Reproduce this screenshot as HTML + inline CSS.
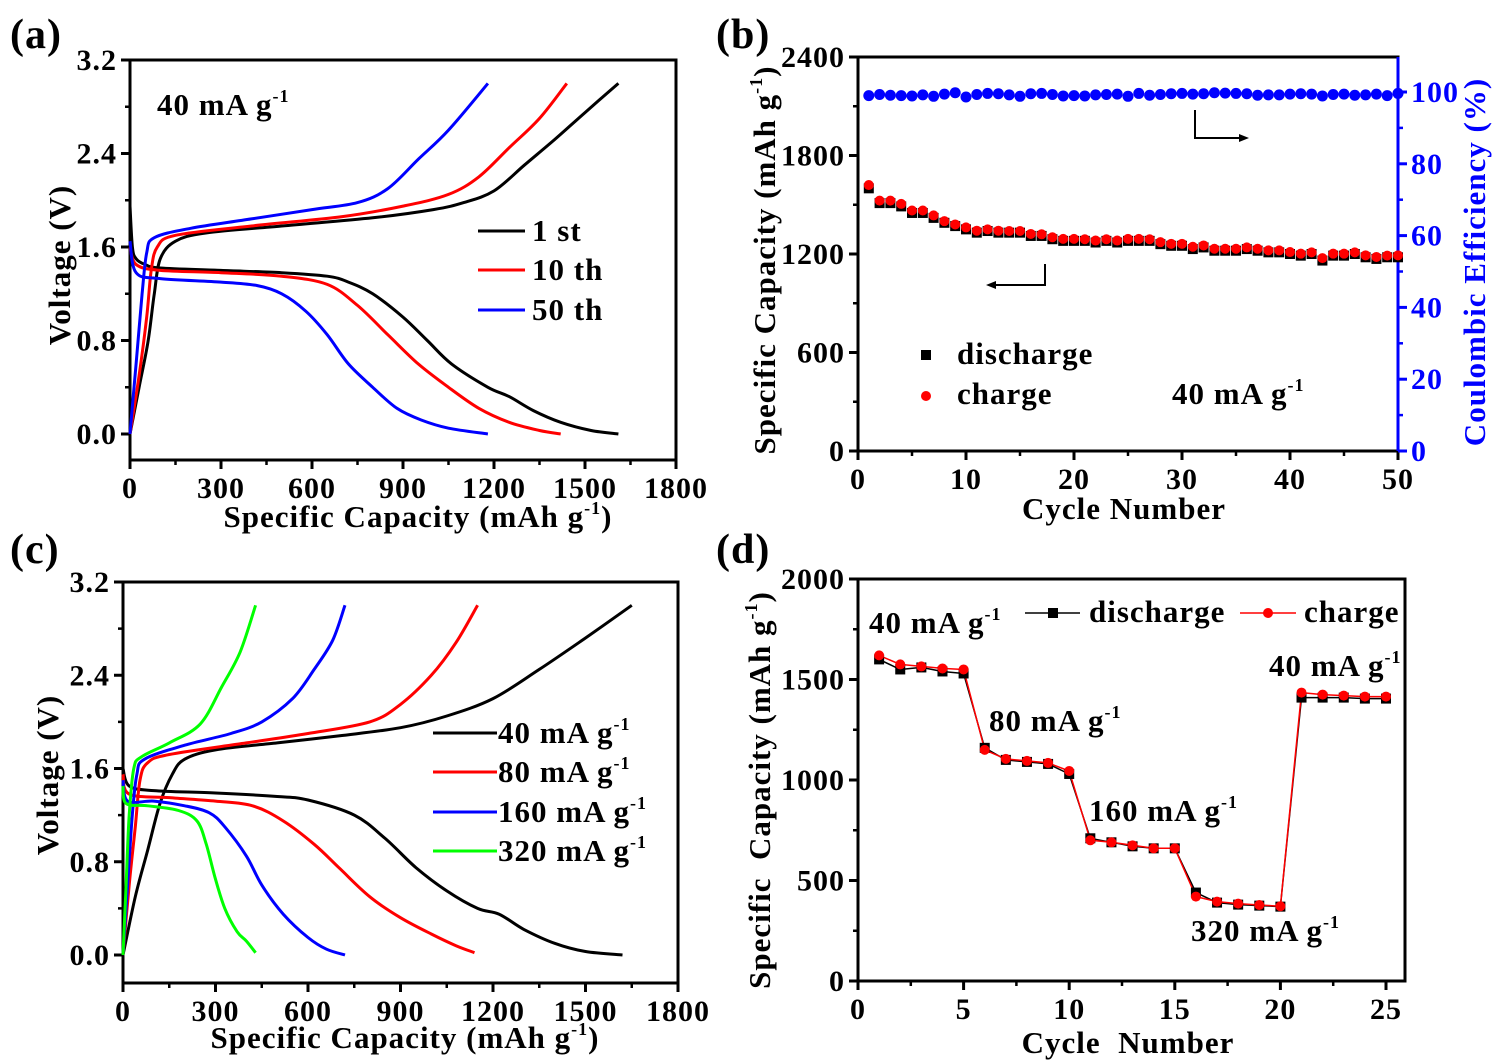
<!DOCTYPE html>
<html><head><meta charset="utf-8"><style>
body{margin:0;background:#fff}
svg{display:block;font-family:"Liberation Serif",serif;font-weight:bold}
</style></head><body>
<svg id="fig" width="1495" height="1060" viewBox="0 0 1495 1060" xmlns="http://www.w3.org/2000/svg"></svg>
<script>
// ---- Panel (a) data: [capacity, voltage]
const a1Dis=[[0,1.95],[8,1.6],[20,1.5],[50,1.45],[100,1.42],[300,1.40],[500,1.38],[650,1.35],[720,1.3],[800,1.2],[900,1.0],[980,0.8],[1060,0.6],[1180,0.4],[1250,0.32],[1330,0.2],[1420,0.1],[1520,0.03],[1610,0]];
const a1Chg=[[0,0],[30,0.4],[60,0.8],[80,1.2],[100,1.5],[150,1.65],[250,1.72],[500,1.78],[800,1.85],[1000,1.92],[1100,1.98],[1200,2.08],[1300,2.3],[1400,2.52],[1500,2.75],[1610,3.0]];
const a10Dis=[[0,1.6],[20,1.45],[100,1.40],[300,1.38],[500,1.35],[650,1.28],[750,1.1],[850,0.85],[950,0.6],[1050,0.4],[1150,0.22],[1250,0.1],[1350,0.03],[1420,0]];
const a10Chg=[[0,0],[30,0.5],[55,1.0],[70,1.4],[90,1.6],[150,1.7],[400,1.78],[700,1.86],[900,1.95],[1050,2.05],[1150,2.2],[1250,2.45],[1350,2.7],[1440,3.0]];
const a50Dis=[[0,1.65],[20,1.38],[100,1.33],[300,1.30],[420,1.27],[500,1.2],[580,1.05],[650,0.85],[720,0.6],[800,0.4],[880,0.22],[960,0.12],[1050,0.05],[1180,0]];
const a50Chg=[[0,0],[20,0.6],[40,1.2],[55,1.55],[80,1.68],[200,1.76],[400,1.84],[600,1.92],[750,1.98],[850,2.1],[950,2.35],[1050,2.6],[1180,3.0]];
// ---- Panel (c) data
const c40Dis=[[0,1.6],[20,1.45],[100,1.41],[300,1.39],[500,1.36],[600,1.33],[750,1.2],[850,1.0],[950,0.75],[1050,0.55],[1150,0.4],[1220,0.35],[1300,0.22],[1400,0.1],[1500,0.03],[1620,0]];
const c40Chg=[[0,0],[40,0.5],[80,0.9],[120,1.3],[160,1.55],[200,1.68],[300,1.76],[500,1.82],[700,1.88],[900,1.95],[1050,2.05],[1200,2.2],[1350,2.45],[1500,2.72],[1650,3.0]];
const c80Dis=[[0,1.55],[20,1.38],[150,1.35],[300,1.32],[420,1.28],[520,1.15],[620,0.95],[700,0.75],[800,0.5],[900,0.32],[1000,0.18],[1080,0.08],[1140,0.02]];
const c80Chg=[[0,0],[20,0.6],[40,1.1],[55,1.5],[80,1.65],[150,1.72],[400,1.82],[600,1.90],[800,2.0],[900,2.15],[1000,2.4],[1080,2.68],[1150,3.0]];
const c160Dis=[[0,1.5],[15,1.32],[100,1.32],[200,1.28],[280,1.22],[330,1.1],[400,0.85],[450,0.6],[520,0.35],[600,0.15],[660,0.05],[720,0]];
const c160Chg=[[0,0],[15,0.6],[30,1.2],[45,1.55],[70,1.68],[200,1.8],[350,1.9],[450,2.0],[550,2.2],[620,2.45],[680,2.7],[720,3.0]];
const c320Dis=[[0,1.45],[10,1.3],[80,1.28],[180,1.24],[240,1.15],[270,0.95],[300,0.65],[330,0.4],[370,0.2],[400,0.12],[430,0.02]];
const c320Chg=[[0,0],[10,0.6],[20,1.2],[35,1.6],[60,1.7],[150,1.82],[250,1.98],[320,2.3],[380,2.6],[430,3.0]];
// ---- Panel (b) data
const bDis=[1600,1510,1510,1490,1450,1450,1420,1390,1370,1350,1330,1340,1330,1330,1330,1310,1310,1290,1280,1280,1280,1270,1280,1270,1280,1280,1280,1260,1250,1250,1230,1240,1220,1220,1220,1230,1220,1210,1210,1200,1190,1200,1160,1190,1190,1200,1180,1170,1180,1180];
const bChg=[1620,1525,1525,1505,1465,1465,1435,1400,1380,1362,1342,1350,1342,1340,1340,1322,1320,1302,1292,1292,1290,1282,1290,1282,1292,1292,1290,1272,1262,1262,1244,1252,1232,1232,1232,1240,1232,1222,1222,1212,1202,1210,1175,1202,1202,1210,1192,1182,1190,1192];
const bCE=[99,99.3,99.1,99,98.9,99.2,98.8,99.4,99.8,98.6,99.3,99.6,99.5,99.2,98.8,99.5,99.6,99.3,98.9,99,98.9,99.2,99.3,99.4,98.8,99.6,99.1,99.3,99.5,99.6,99.4,99.5,99.8,99.7,99.6,99.5,99.1,99.2,99.2,99.4,99.5,99.4,98.9,99.3,99.4,99.1,99.2,99.4,99,99.6];
// ---- Panel (d) data
const dDis=[1600,1550,1560,1540,1530,1160,1100,1090,1080,1030,710,690,670,660,660,440,390,380,375,370,1410,1410,1410,1405,1405];
const dChg=[1620,1575,1565,1555,1550,1150,1105,1095,1085,1045,700,690,675,660,660,420,395,385,378,372,1435,1425,1420,1415,1415];
const capTicks=["0","300","600","900","1200","1500","1800"];
const voltTicks=["0.0","0.8","1.6","2.4","3.2"];

const NS="http://www.w3.org/2000/svg";
const svg=document.getElementById('fig');
const FS=31, TS=30;
function el(tag,attrs,parent,text){const e=document.createElementNS(NS,tag);for(const k in attrs)e.setAttribute(k,attrs[k]);if(text!==undefined)e.textContent=text;(parent||svg).appendChild(e);return e;}
function scale(d0,d1,p0,p1){return v=>p0+(v-d0)*(p1-p0)/(d1-d0);}

function frame(g,L,T,R,B){const r=el('rect',{x:L,y:T,width:R-L,height:B-T,fill:'none',stroke:'#000','stroke-width':3},g);}
function xAxis(g,sx,vals,labels,minorStep,B,c,name){
  vals.forEach((v,i)=>{const x=sx(v);el('line',{x1:x,y1:B,x2:x,y2:B+9,stroke:c||'#000','stroke-width':3},g);
    const t=el('text',{x:x,y:B+38,'font-size':TS,'text-anchor':'middle',fill:'#000','letter-spacing':1},g,labels[i]);});
  if(minorStep){for(let v=vals[0]+minorStep;v<vals[vals.length-1];v+=minorStep*2){const x=sx(v);el('line',{x1:x,y1:B,x2:x,y2:B+5,stroke:'#000','stroke-width':2.5},g);}}
}
function yAxis(g,sy,vals,labels,minorStep,X,side,c,name){
  const d=side==='r'?1:-1;
  vals.forEach((v,i)=>{const y=sy(v);el('line',{x1:X,y1:y,x2:X+d*9,y2:y,stroke:c,'stroke-width':3},g);
    const t=el('text',{x:X+d*13,y:y+10,'font-size':TS,'text-anchor':side==='r'?'start':'end',fill:c==='#00f'?'#00f':'#000','letter-spacing':1},g,labels[i]);});
  if(minorStep){for(let v=vals[0]+minorStep;v<vals[vals.length-1];v+=minorStep*2){const y=sy(v);el('line',{x1:X,y1:y,x2:X+d*5,y2:y,stroke:c,'stroke-width':2.5},g);}}
}
function curve(g,pts,sx,sy,color,name,smooth){
  const P=pts.map(p=>[sx(p[0]),sy(p[1])]);
  let d='M'+P[0][0].toFixed(1)+','+P[0][1].toFixed(1);
  if(smooth===false){for(let i=1;i<P.length;i++)d+=' L'+P[i][0].toFixed(1)+','+P[i][1].toFixed(1);}
  else{for(let i=0;i<P.length-1;i++){const p0=P[i-1]||P[i],p1=P[i],p2=P[i+1],p3=P[i+2]||p2;
    const c1=[p1[0]+(p2[0]-p0[0])/6,p1[1]+(p2[1]-p0[1])/6],c2=[p2[0]-(p3[0]-p1[0])/6,p2[1]-(p3[1]-p1[1])/6];
    d+=' C'+c1.map(v=>v.toFixed(1))+' '+c2.map(v=>v.toFixed(1))+' '+p2.map(v=>v.toFixed(1));}}
  const p=el('path',{d:d,fill:'none',stroke:color,'stroke-width':3,'stroke-linejoin':'round'},g);
  
  return p;
}
function txt(g,x,y,s,size,name,extra){const t=el('text',Object.assign({x:x,y:y,'font-size':size,'letter-spacing':1},extra||{}),g);t.innerHTML=s;return t;}
const SUP='<tspan dy="-13" font-size="18">-1</tspan>';
const SUPP='<tspan dy="-13" font-size="18">-1</tspan><tspan dy="13">)</tspan>';

// ===== Panel (a)
{const g=el('g',{});
 const sx=scale(0,1800,130,676), sy=scale(0,3.2,434,60);
 frame(g,130,60,676,460);
 xAxis(g,sx,[0,300,600,900,1200,1500,1800],capTicks,150,460,'#000','a-x');
 yAxis(g,sy,[0,0.8,1.6,2.4,3.2],voltTicks,0.4,130,'l','#000','a-y');
 curve(g,a1Dis,sx,sy,'#000','a-1st-discharge');curve(g,a1Chg,sx,sy,'#000','a-1st-charge');
 curve(g,a10Dis,sx,sy,'#f00','a-10th-discharge');curve(g,a10Chg,sx,sy,'#f00','a-10th-charge');
 curve(g,a50Dis,sx,sy,'#00f','a-50th-discharge');curve(g,a50Chg,sx,sy,'#00f','a-50th-charge');
 txt(g,10,48,'(a)',42,'panel-label-a');
 txt(g,157,115,'40 mA g'+SUP,FS,'a-rate-label');
 [['1 st','#000',231],['10 th','#f00',270],['50 th','#00f',310]].forEach(l=>{el('line',{x1:478,y1:l[2],x2:525,y2:l[2],stroke:l[1],'stroke-width':3},g);txt(g,532,l[2]+10,l[0],FS,'a-legend-entry');});
 txt(g,418,527,'Specific Capacity (mAh g'+SUPP,FS,'a-x-axis-title',{'text-anchor':'middle'});
 txt(g,0,0,'Voltage (V)',FS,'a-y-axis-title',{'text-anchor':'middle',transform:'translate(70,265) rotate(-90)'});
}
// ===== Panel (c)
{const g=el('g',{});
 const sx=scale(0,1800,123,678), sy=scale(0,3.2,955,582);
 frame(g,123,582,678,983);
 xAxis(g,sx,[0,300,600,900,1200,1500,1800],capTicks,150,983,'#000','c-x');
 yAxis(g,sy,[0,0.8,1.6,2.4,3.2],voltTicks,0.4,123,'l','#000','c-y');
 curve(g,c40Dis,sx,sy,'#000','c-40-discharge');curve(g,c40Chg,sx,sy,'#000','c-40-charge');
 curve(g,c80Dis,sx,sy,'#f00','c-80-discharge');curve(g,c80Chg,sx,sy,'#f00','c-80-charge');
 curve(g,c160Dis,sx,sy,'#00f','c-160-discharge');curve(g,c160Chg,sx,sy,'#00f','c-160-charge');
 curve(g,c320Dis,sx,sy,'#0f0','c-320-discharge');curve(g,c320Chg,sx,sy,'#0f0','c-320-charge');
 txt(g,10,563,'(c)',42,'panel-label-c');
 [['40','#000',733],['80','#f00',772],['160','#00f',812],['320','#0f0',851]].forEach(l=>{el('line',{x1:433,y1:l[2],x2:497,y2:l[2],stroke:l[1],'stroke-width':3},g);txt(g,498,l[2]+10,l[0]+' mA g'+SUP,FS,'c-legend-entry');});
 txt(g,405,1048,'Specific Capacity (mAh g'+SUPP,FS,'c-x-axis-title',{'text-anchor':'middle'});
 txt(g,0,0,'Voltage (V)',FS,'c-y-axis-title',{'text-anchor':'middle',transform:'translate(58,775) rotate(-90)'});
}
// ===== Panel (b)
{const g=el('g',{});
 const sx=scale(0,50,858,1398), sy=scale(0,2400,451,57), sy2=scale(0,100,451,92);
 frame(g,858,57,1398,451);
 el('line',{x1:1398,y1:57,x2:1398,y2:451,stroke:'#00f','stroke-width':3},g);
 xAxis(g,sx,[0,10,20,30,40,50],["0","10","20","30","40","50"],5,451,'#000','b-x');
 yAxis(g,sy,[0,600,1200,1800,2400],["0","600","1200","1800","2400"],300,858,'l','#000','b-y');
 yAxis(g,sy2,[0,20,40,60,80,100],["0","20","40","60","80","100"],10,1398,'r','#00f','b-y2');
 bCE.forEach((v,i)=>{const c=el('circle',{cx:sx(i+1),cy:sy2(v),r:5.5,fill:'#00f'},g);});
 bDis.forEach((v,i)=>{const r=el('rect',{x:sx(i+1)-5,y:sy(v)-5,width:10,height:10,fill:'#000'},g);});
 bChg.forEach((v,i)=>{const c=el('circle',{cx:sx(i+1),cy:sy(v),r:5,fill:'#f00'},g);});
 txt(g,716,48,'(b)',42,'panel-label-b');
 el('rect',{x:921,y:350,width:10,height:10,fill:'#000'},g);txt(g,957,364,'discharge',FS,'b-legend-discharge');
 el('circle',{cx:926,cy:396,r:5,fill:'#f00'},g);txt(g,957,404,'charge',FS,'b-legend-charge');
 txt(g,1172,404,'40 mA g'+SUP,FS,'b-rate-label');
 el('path',{d:'M1045,264 V285 H990',fill:'none',stroke:'#000','stroke-width':2},g);
 el('path',{d:'M986,285 l10,-4 v8 z',fill:'#000'},g);
 el('path',{d:'M1195,110 V138 H1244',fill:'none',stroke:'#000','stroke-width':2},g);
 el('path',{d:'M1249,138 l-10,-4 v8 z',fill:'#000'},g);
 txt(g,1124,519,'Cycle Number',FS,'b-x-axis-title',{'text-anchor':'middle'});
 txt(g,0,0,'Specific Capacity (mAh g'+SUPP,FS,'b-y-axis-title',{'text-anchor':'middle',transform:'translate(775,260) rotate(-90)'});
 txt(g,0,0,'Coulombic Efficiency (%)',FS,'b-y2-axis-title',{'text-anchor':'middle',fill:'#00f',transform:'translate(1485,262) rotate(-90)'});
}
// ===== Panel (d)
{const g=el('g',{});
 const sx=scale(0,25,858,1386), sy=scale(0,2000,981,579);
 frame(g,858,579,1405,981);
 xAxis(g,sx,[0,5,10,15,20,25],["0","5","10","15","20","25"],2.5,981,'#000','d-x');
 yAxis(g,sy,[0,500,1000,1500,2000],["0","500","1000","1500","2000"],250,858,'l','#000','d-y');
 const lp=arr=>arr.map((v,i)=>[i+1,v]);
 curve(g,lp(dDis),sx,sy,'#000','d-discharge-line',false).setAttribute('stroke-width',1.5);
 curve(g,lp(dChg),sx,sy,'#f00','d-charge-line',false).setAttribute('stroke-width',1.5);
 dDis.forEach((v,i)=>{const r=el('rect',{x:sx(i+1)-5,y:sy(v)-5,width:10,height:10,fill:'#000'},g);});
 dChg.forEach((v,i)=>{const c=el('circle',{cx:sx(i+1),cy:sy(v),r:5,fill:'#f00'},g);});
 txt(g,716,563,'(d)',42,'panel-label-d');
 el('line',{x1:1025,y1:613,x2:1080,y2:613,stroke:'#000','stroke-width':1.5},g);el('rect',{x:1048,y:608,width:10,height:10,fill:'#000'},g);
 txt(g,1089,622,'discharge',FS,'d-legend-discharge');
 el('line',{x1:1240,y1:613,x2:1296,y2:613,stroke:'#f00','stroke-width':1.5},g);el('circle',{cx:1268,cy:613,r:5,fill:'#f00'},g);
 txt(g,1304,622,'charge',FS,'d-legend-charge');
 txt(g,869,633,'40 mA g'+SUP,FS,'d-label-40');
 txt(g,989,731,'80 mA g'+SUP,FS,'d-label-80');
 txt(g,1089,821,'160 mA g'+SUP,FS,'d-label-160');
 txt(g,1191,941,'320 mA g'+SUP,FS,'d-label-320');
 txt(g,1269,676,'40 mA g'+SUP,FS,'d-label-40-return');
 txt(g,1128,1053,'Cycle&#160; Number',FS,'d-x-axis-title',{'text-anchor':'middle'});
 txt(g,0,0,'Specific&#160; Capacity (mAh g'+SUPP,FS,'d-y-axis-title',{'text-anchor':'middle',transform:'translate(770,790) rotate(-90)'});
}
</script>
</body></html>
